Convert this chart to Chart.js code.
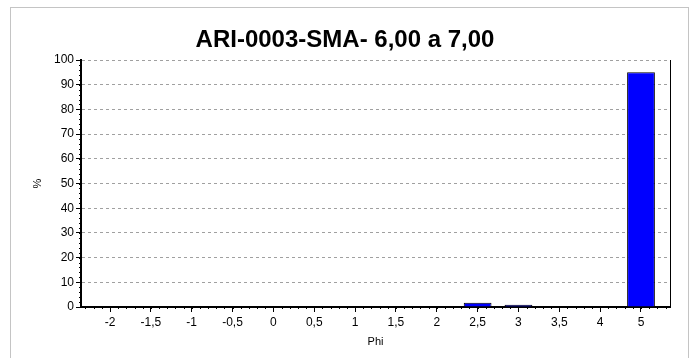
<!DOCTYPE html>
<html>
<head>
<meta charset="utf-8">
<script src="https://cdn.jsdelivr.net/npm/chart.js@4/dist/chart.umd.min.js"></script>
<style>
html,body{margin:0;padding:0;background:#fff;}
#wrap{width:691px;height:358px;position:relative;}
</style>
</head>
<body>
<div id="wrap"><canvas id="c" width="691" height="358"></canvas></div>
<script>
const chartTitle = "ARI-0003-SMA- 6,00 a 7,00";
const categories = ["-2","-1,5","-1","-0,5","0","0,5","1","1,5","2","2,5","3","3,5","4","5"];
const percentValues = [0,0,0,0,0,0,0,0,0,1.7,0.9,0,0,95];
const yTicks = [0,10,20,30,40,50,60,70,80,90,100];
const xTitle = "Phi";
const yTitle = "%";

const FONT = "'Liberation Sans', Arial, sans-serif";

const framePlugin = {
  id: 'frame',
  beforeDraw(chart) {
    const ctx = chart.ctx;
    ctx.save();
    ctx.fillStyle = '#fff';
    ctx.fillRect(0, 0, chart.width, chart.height);
    ctx.strokeStyle = '#c4c4c4';
    ctx.lineWidth = 1;
    ctx.strokeRect(10.5, 7.5, 678, 400);
    ctx.restore();
  },
  afterDraw(chart) {
    const ctx = chart.ctx;
    const a = chart.chartArea;
    const xs = chart.scales.x, ys = chart.scales.y;
    ctx.save();
    ctx.strokeStyle = '#000';
    ctx.lineWidth = 1;
    ctx.beginPath();
    const kMin = Math.ceil(xs.min * 5), kMax = Math.floor(xs.max * 5);
    for (let k = kMin; k <= kMax; k++) {
      const px = Math.round(xs.getPixelForValue(k / 5)) + 0.5;
      if (px < a.left + 1 || px > a.right - 1) continue;
      ctx.moveTo(px, a.bottom);
      ctx.lineTo(px, a.bottom + 2);
    }
    for (let v = 0; v <= 100; v += 2) {
      const py = Math.round(ys.getPixelForValue(v)) + 0.5;
      ctx.moveTo(a.left - 2, py);
      ctx.lineTo(a.left, py);
    }
    ctx.stroke();
    ctx.restore();
  }
};

new Chart(document.getElementById('c'), {
  type: 'bar',
  data: {
    datasets: [{
      data: percentValues.map((v, i) => ({x: i, y: v})),
      backgroundColor: '#0000ff',
      borderColor: '#000000',
      borderWidth: 1,
      borderSkipped: 'bottom',
      categoryPercentage: 1,
      barPercentage: 0.68
    }]
  },
  options: {
    responsive: false,
    animation: false,
    devicePixelRatio: 1,
    layout: {padding: {left: 10, right: 11, top: 8, bottom: 0}},
    plugins: {
      legend: {display: false},
      tooltip: {enabled: false},
      title: {
        display: true,
        text: chartTitle,
        color: '#000',
        font: {family: FONT, size: 24, weight: 'bold'},
        padding: {top: 17.6, bottom: 5.6}
      }
    },
    scales: {
      x: {
        type: 'linear',
        offset: false,
        min: -0.71,
        max: 13.71,
        afterBuildTicks(scale) {
          scale.ticks = categories.map((_, i) => ({value: i}));
        },
        afterFit(scale) { scale.height = 51; },
        ticks: {
          autoSkip: false,
          maxRotation: 0,
          color: '#000',
          font: {family: FONT, size: 12},
          padding: 3,
          callback: (v) => categories[v]
        },
        grid: {
          offset: false,
          drawOnChartArea: false,
          drawTicks: true,
          tickLength: 5,
          tickColor: '#000',
          tickWidth: 1
        },
        border: {display: true, color: '#000', width: 2},
        title: {
          display: true,
          text: xTitle,
          color: '#000',
          font: {family: FONT, size: 11},
          padding: {top: 9, bottom: 9}
        }
      },
      y: {
        type: 'linear',
        min: 0,
        max: 100,
        afterBuildTicks(scale) {
          scale.ticks = yTicks.map(v => ({value: v}));
        },
        afterFit(scale) { scale.width = 71; },
        ticks: {
          color: '#000',
          font: {family: FONT, size: 12},
          padding: 2
        },
        grid: {
          color: '#a0a0a0',
          drawTicks: true,
          tickLength: 5,
          tickColor: '#000',
          tickBorderDash: [],
          tickWidth: 1
        },
        border: {display: true, color: '#000', width: 2, dash: [3, 3]},
        title: {
          display: true,
          text: yTitle,
          color: '#000',
          font: {family: FONT, size: 11},
          padding: {top: 21, bottom: 0}
        }
      },
      y2: {
        type: 'linear',
        position: 'right',
        display: true,
        min: 0,
        max: 100,
        afterFit(scale) { scale.width = 10; },
        ticks: {display: false},
        grid: {display: false, drawOnChartArea: false, drawTicks: false},
        border: {display: true, color: '#000', width: 1}
      }
    }
  },
  plugins: [framePlugin]
});
</script>
</body>
</html>
